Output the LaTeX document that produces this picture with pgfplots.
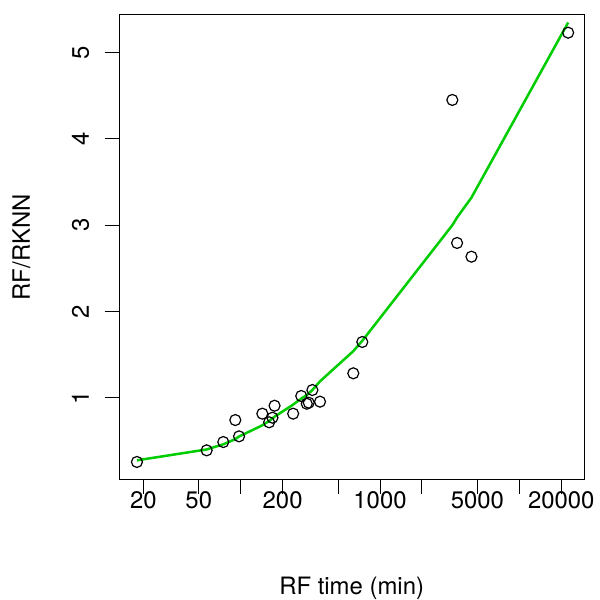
\documentclass[border=0pt]{standalone}
\usepackage{fontspec}
\setmainfont{TeX Gyre Heros}
\usepackage{pgfplots}
\pgfplotsset{compat=1.18}
\definecolor{green3}{RGB}{0,205,0}
\begin{document}
\fontsize{24}{28.8}\selectfont
\begin{tikzpicture}[x=1bp,y=1bp]
\useasboundingbox (-119.3bp,-120.7bp) rectangle (480.7bp,479.3bp);
\begin{axis}[
  at={(0,0)}, anchor=south west,
  scale only axis, width=464.7bp, height=464.3bp,
  xmode=log, xmin=13.45, xmax=29105, ymin=0.054, ymax=5.437,
  axis line style={line width=1bp},
  tick align=outside, major tick length=14.4bp,
  tick style={line width=1bp, black},
  xtick={20,50,100,200,500,1000,2000,5000,10000,20000},
  xticklabels={20,50,,200,,1000,,5000,,20000},
  minor xtick={}, minor tick num=0,
  ytick={1,2,3,4,5},
  yticklabels={1,2,3,4,5},
  xtick pos=bottom, ytick pos=left,
  /pgf/number format/assume math mode=true,
  xticklabel style={anchor=base, inner sep=0pt, yshift=-14.8bp},
  yticklabel style={anchor=base, inner sep=0pt, xshift=-16bp, rotate=90},
  xlabel={RF time (min)}, ylabel={RF/RKNN},
  xlabel style={at={(axis description cs:0.5,0)}, anchor=base, inner sep=0pt, yshift=-115bp},
  ylabel style={at={(axis description cs:-0.1922,0.5)}, anchor=base, inner sep=0pt},
]
\addplot[only marks, mark=o, mark size=5.5bp, mark options={line width=1.2bp, black}] table {
x y
18.0 0.255
57.0 0.39
75 0.486
91.5 0.741
97.3 0.552
143 0.815
160 0.715
169 0.768
175 0.907
238 0.815
272 1.02
298 0.93
308 0.942
327 1.089
371 0.954
643 1.283
746 1.646
3304 4.452
3573 2.794
4531 2.635
22400 5.232
};
\addplot[green3, line width=2.5bp, no marks] table {
x y
18.0 0.274
57.0 0.40
75 0.46
91.5 0.52
97.3 0.55
143 0.68
160 0.73
169 0.76
175 0.78
238 0.92
272 0.99
298 1.03
308 1.05
327 1.09
371 1.19
643 1.54
746 1.66
3304 3.00
3573 3.09
4531 3.32
22400 5.35
};
\end{axis}
\end{tikzpicture}
\end{document}
